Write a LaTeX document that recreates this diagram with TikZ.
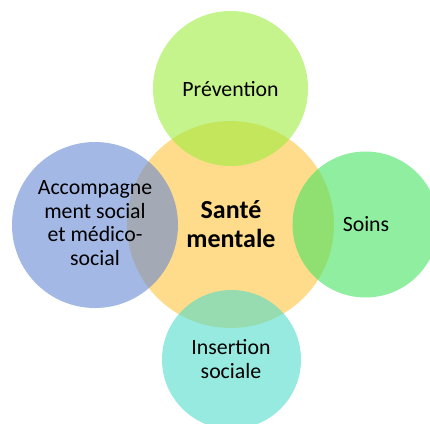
\documentclass[tikz,border=0pt]{standalone}
\usepackage{fontspec}
\setmainfont{Carlito}
\definecolor{cyel}{HTML}{FFC53F}
\definecolor{cgrn}{HTML}{9DED3F}
\definecolor{cblu}{HTML}{6789D2}
\definecolor{csoi}{HTML}{46E361}
\definecolor{ccya}{HTML}{53DCCB}
\begin{document}
\begin{tikzpicture}[x=1pt,y=-1pt,
  bubble/.style={circle,draw=none,fill opacity=0.6,inner sep=0pt},
  lbl/.style={align=center,font=\fontsize{21.8}{23.7}\selectfont,text=black},
  title/.style={align=center,font=\fontsize{26}{28.5}\selectfont\bfseries,text=black}]
\useasboundingbox (0,0) rectangle (430,423);
\fill[white] (0,0) rectangle (430,423);
\node[bubble,fill=cyel,minimum size=207pt] (c) at (230.5,224.5) {};
\node[bubble,fill=cgrn,minimum size=155pt] (top) at (230.5,88.5) {};
\node[bubble,fill=cblu,minimum size=166pt] (left) at (95,225) {};
\node[bubble,fill=csoi,minimum size=146pt] (right) at (365.5,224.5) {};
\node[bubble,fill=ccya,minimum size=139pt] (bot) at (231.5,359.5) {};
\node[title] (tc) at (231,224) {Santé\\mentale};
\node[lbl] (tt) at (230.5,89) {Prévention};
\node[lbl] (tl) at (95,223) {Accompagne\\ment social\\et médico-\\social};
\node[lbl] (tr) at (366,224) {Soins};
\node[lbl] (tb) at (231,359) {Insertion\\sociale};
\end{tikzpicture}
\end{document}
